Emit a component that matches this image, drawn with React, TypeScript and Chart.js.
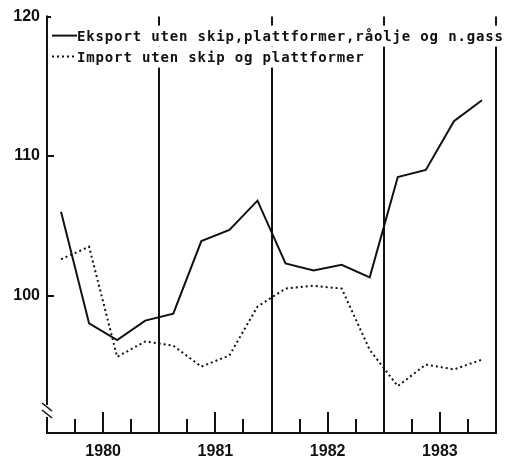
import React, { useEffect, useRef } from "react";
import { Chart, registerables } from "chart.js";

Chart.register(...registerables);

const years = ["1980", "1981", "1982", "1983"];
const quarters = [1, 2, 3, 4];
const exportLabel = "Eksport uten skip,plattformer,råolje og n.gass";
const importLabel = "Import uten skip og plattformer";
const exportValues = [106.0, 98.0, 96.8, 98.2, 98.7, 103.9, 104.7, 106.8, 102.3, 101.8, 102.2, 101.3, 108.5, 109.0, 112.5, 114.0];
const importValues = [102.6, 103.5, 95.6, 96.7, 96.4, 94.9, 95.7, 99.2, 100.5, 100.7, 100.5, 96.1, 93.5, 95.05, 94.7, 95.4];
const yTickValues = [100, 110, 120];
const yMin = 90.14;
const yMax = 120;

const xPositions: number[] = [];
years.forEach((yr) => quarters.forEach((q) => xPositions.push(Number(yr) + (q - 0.5) / 4)));

const INK = "#111";

const decorPlugin = {
  id: "decor",
  beforeDatasetsDraw(chart: any) {
    const { ctx, chartArea, scales } = chart;
    const { left, right, top, bottom } = chartArea;
    const x = scales.x;
    const y = scales.y;
    const line = (x1: number, y1: number, x2: number, y2: number) => {
      ctx.beginPath();
      ctx.moveTo(x1, y1);
      ctx.lineTo(x2, y2);
      ctx.stroke();
    };
    ctx.save();
    ctx.strokeStyle = INK;
    ctx.lineWidth = 2;
    ctx.lineCap = "butt";
    years.forEach((yr) => {
      const px = Math.round(x.getPixelForValue(Number(yr) + 1));
      line(px, top, px, bottom);
    });
    years.forEach((yr) => {
      [0.25, 0.5, 0.75].forEach((f) => {
        const px = Math.round(x.getPixelForValue(Number(yr) + f));
        const len = f === 0.5 ? 21 : 14;
        line(px, bottom, px, bottom - len);
      });
    });
    line(left - 1, bottom, right + 1, bottom);
    const lx = Math.round(left);
    line(lx, top - 1, lx, bottom - 28);
    line(lx, bottom - 16, lx, bottom);
    ctx.lineWidth = 1.6;
    line(lx - 5, bottom - 30, lx + 5, bottom - 22);
    line(lx - 5, bottom - 23, lx + 5, bottom - 15);
    ctx.lineWidth = 2;
    yTickValues.forEach((v) => {
      const py = Math.round(y.getPixelForValue(v));
      const len = v === yMax ? 4 : 7;
      line(lx, py, lx + len, py);
    });
    ctx.restore();
  },
  afterDatasetsDraw(chart: any) {
    const { ctx, chartArea } = chart;
    const { left, top } = chartArea;
    const rows = [
      { label: exportLabel, dash: [] as number[], width: 2, cy: top + 21 },
      { label: importLabel, dash: [2, 3], width: 2, cy: top + 42 },
    ];
    ctx.save();
    ctx.font = 'bold 14px "DejaVu Sans Mono"';
    (ctx as any).letterSpacing = "0.85px";
    ctx.textBaseline = "middle";
    ctx.textAlign = "left";
    rows.forEach((r) => {
      const tx = left + 30;
      const w = ctx.measureText(r.label).width;
      ctx.fillStyle = "#fff";
      ctx.fillRect(left + 3, r.cy - 12, tx - (left + 3) + w + 2, 21);
      ctx.strokeStyle = INK;
      ctx.lineWidth = r.width;
      ctx.setLineDash(r.dash);
      ctx.beginPath();
      ctx.moveTo(left + 5, r.cy - 2);
      ctx.lineTo(tx, r.cy - 2);
      ctx.stroke();
      ctx.setLineDash([]);
      ctx.fillStyle = INK;
      ctx.fillText(r.label, tx, r.cy);
    });
    ctx.restore();
  },
};

export default function App() {
  const ref = useRef<HTMLCanvasElement>(null);
  useEffect(() => {
    if (!ref.current) return;
    const chart = new Chart(ref.current, {
      type: "line",
      data: {
        datasets: [
          {
            label: exportLabel,
            data: xPositions.map((xv, i) => ({ x: xv, y: exportValues[i] })),
            borderColor: INK,
            borderWidth: 2,
            pointRadius: 0,
            tension: 0,
            fill: false,
          },
          {
            label: importLabel,
            data: xPositions.map((xv, i) => ({ x: xv, y: importValues[i] })),
            borderColor: INK,
            borderWidth: 2,
            borderDash: [2, 3],
            pointRadius: 0,
            tension: 0,
            fill: false,
          },
        ],
      },
      options: {
        responsive: false,
        animation: false,
        events: [],
        layout: { padding: { left: 0, top: 15, right: 13, bottom: 0 } },
        plugins: { legend: { display: false }, tooltip: { enabled: false }, title: { display: false } },
        scales: {
          x: {
            type: "linear",
            min: Number(years[0]),
            max: Number(years[years.length - 1]) + 1,
            grid: { display: false, drawTicks: false },
            border: { display: false },
            afterBuildTicks: (scale: any) => {
              scale.ticks = years.map((yr) => ({ value: Number(yr) + 0.5 }));
            },
            afterFit: (scale: any) => {
              scale.height = 34;
            },
            ticks: {
              autoSkip: false,
              maxRotation: 0,
              padding: 9,
              color: INK,
              font: { family: '"Liberation Sans"', size: 16, weight: "bold" },
              callback: (v: any) => String(Math.floor(Number(v))),
            },
          },
          y: {
            type: "linear",
            min: yMin,
            max: yMax,
            grid: { display: false, drawTicks: false },
            border: { display: false },
            afterBuildTicks: (scale: any) => {
              scale.ticks = yTickValues.map((v) => ({ value: v }));
            },
            afterFit: (scale: any) => {
              scale.width = 47;
            },
            ticks: {
              autoSkip: false,
              padding: 7,
              color: INK,
              font: { family: '"Liberation Sans"', size: 16, weight: "bold" },
              callback: (v: any) => String(v),
            },
          },
        },
      },
      plugins: [decorPlugin],
    });
    return () => chart.destroy();
  }, []);
  return (
    <div style={{ position: "absolute", left: 0, top: 0, width: 509, height: 467, background: "#fff" }}>
      <canvas ref={ref} width={509} height={467} style={{ display: "block" }} />
    </div>
  );
}
